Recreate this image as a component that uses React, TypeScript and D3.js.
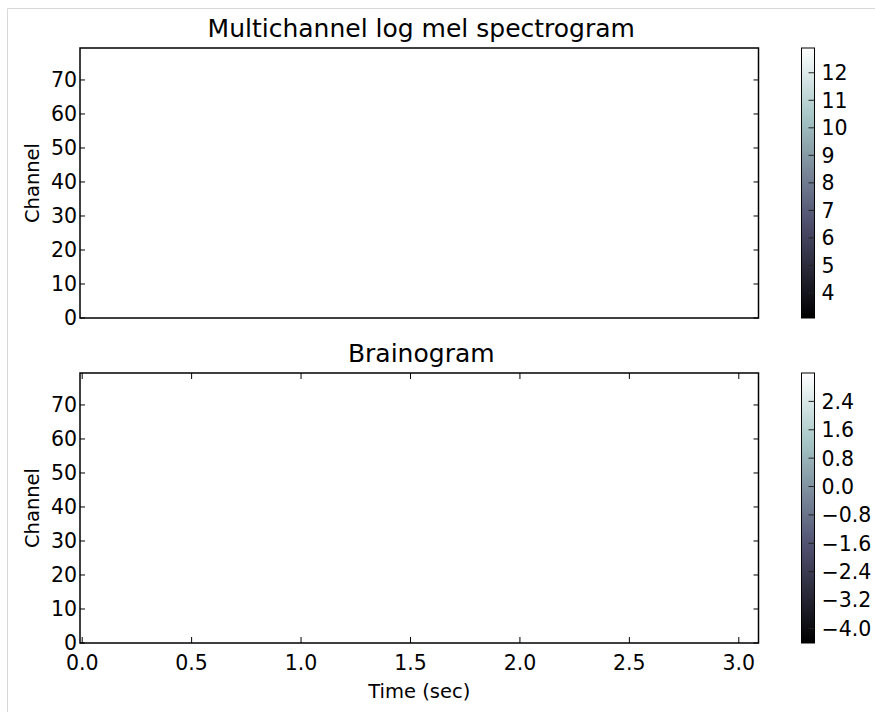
import React from "react";
import * as d3 from "d3";

// axis ticks
const channelTicks = [0, 10, 20, 30, 40, 50, 60, 70];
const timeTicks = [0.0, 0.5, 1.0, 1.5, 2.0, 2.5, 3.0];
const melTicks = [4, 5, 6, 7, 8, 9, 10, 11, 12];
const brainTicks = [-4.0, -3.2, -2.4, -1.6, -0.8, 0.0, 0.8, 1.6, 2.4];

const timeRange = [-0.01, 3.09];
const channelRange = [0, 79.4];
const melRange = [3.09, 12.9];
const brainRange = [-4.41, 3.2];

// matplotlib "bone" colormap stops
const boneStops = [
  [0, "#000000"],
  [0.365079, "rgb(81,81,113)"],
  [0.746032, "rgb(166,198,198)"],
  [1, "#ffffff"],
];

const font = "'DejaVu Sans', sans-serif";
const fs = 20.5;

function Panel(props: any) {
  const { top, title, showX, cbTicks, cbRange, cbFmt, gradId } = props;
  const left = 80, right = 758.5, bottom = top + 270;
  const x = d3.scaleLinear().domain(timeRange).range([left, right]);
  const y = d3.scaleLinear().domain(channelRange).range([bottom, top]);
  const cbX0 = 801.5, cbX1 = 814.5;
  const cb = d3.scaleLinear().domain(cbRange).range([bottom, top]);
  const tl = 5;
  return (
    <g>
      <text x={(left + right) / 2 + 2} y={top - 11} textAnchor="middle" fontSize={25} fontFamily={font}>{title}</text>
      <text transform={`translate(39,${(top + bottom) / 2}) rotate(-90)`} textAnchor="middle" fontSize={19.5} fontFamily={font}>Channel</text>
      {channelTicks.map(t => (
        <g key={t}>
          <line x1={left} x2={left + tl} y1={y(t)} y2={y(t)} stroke="#000" />
          <line x1={right - tl} x2={right} y1={y(t)} y2={y(t)} stroke="#000" />
          <text x={left - 3} y={y(t)} dy="0.34em" textAnchor="end" fontSize={fs} fontFamily={font}>{t}</text>
        </g>
      ))}
      {showX && timeTicks.map(t => (
        <g key={t}>
          <line x1={x(t)} x2={x(t)} y1={bottom} y2={bottom - tl - 1} stroke="#000" />
          <line x1={x(t)} x2={x(t)} y1={top} y2={top + tl + 1} stroke="#000" />
          <text x={x(t)} y={bottom + 27} textAnchor="middle" fontSize={fs} fontFamily={font}>{t.toFixed(1)}</text>
        </g>
      ))}
      {showX && (
        <text x={(left + right) / 2} y={bottom + 55} textAnchor="middle" fontSize={19.5} fontFamily={font}>Time (sec)</text>
      )}
      <rect x={left} y={top} width={right - left} height={bottom - top} fill="none" stroke="#000" strokeWidth={1.5} />
      <rect x={cbX0} y={top} width={cbX1 - cbX0} height={bottom - top} fill={`url(#${gradId})`} stroke="#000" strokeWidth={1} />
      {cbTicks.map((t: number) => (
        <g key={t}>
          <line x1={cbX1 - 6} x2={cbX1} y1={cb(t)} y2={cb(t)} stroke="#222" />
          <text x={cbX1 + 7} y={cb(t)} dy="0.36em" fontSize={fs} fontFamily={font}>{cbFmt(t)}</text>
        </g>
      ))}
    </g>
  );
}

export default function App() {
  const minus = (t: number) => (t < 0 ? "\u2212" + Math.abs(t).toFixed(1) : t.toFixed(1));
  return (
    <svg width={875} height={712} style={{ position: "absolute", left: 0, top: 0, background: "#fff" }}>
      <defs>
        {["g1", "g2"].map(id => (
          <linearGradient key={id} id={id} x1="0" y1="1" x2="0" y2="0">
            {boneStops.map(([o, c]) => (
              <stop key={o as number} offset={o as number} stopColor={c as string} />
            ))}
          </linearGradient>
        ))}
      </defs>
      <line x1={7.5} x2={875} y1={8.5} y2={8.5} stroke="#d8d8d8" />
      <line x1={7.5} x2={7.5} y1={8.5} y2={712} stroke="#d8d8d8" />
      <Panel top={48} title="Multichannel log mel spectrogram" showX={false}
        cbTicks={melTicks} cbRange={melRange} cbFmt={(t: number) => String(t)} gradId="g1" />
      <Panel top={373} title="Brainogram" showX={true}
        cbTicks={brainTicks} cbRange={brainRange} cbFmt={minus} gradId="g2" />
    </svg>
  );
}
